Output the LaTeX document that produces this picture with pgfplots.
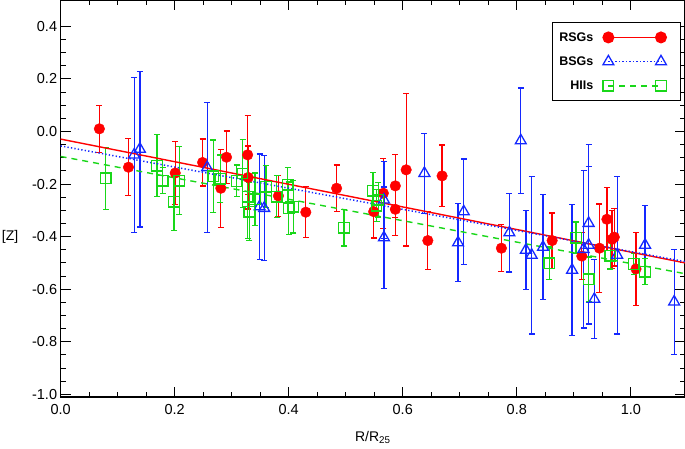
\documentclass[border=0pt]{standalone}
\usepackage{fontspec}
\setmainfont{Liberation Sans}
\usepackage{pgfplots}
\pgfplotsset{compat=1.18}
\usepackage{pgfplotstable}
\definecolor{cred}{RGB}{255,0,0}
\definecolor{cblue}{RGB}{20,40,255}
\definecolor{cgreen}{RGB}{25,215,25}

\pgfplotstableread{
x y e
0.068 0.010 0.090
0.119 -0.136 0.108
0.201 -0.158 0.120
0.249 -0.118 0.089
0.291 -0.098 0.100
0.281 -0.216 0.148
0.328 -0.089 0.150
0.329 -0.175 0.120
0.382 -0.245 0.078
0.430 -0.307 0.097
0.484 -0.216 0.088
0.549 -0.305 0.100
0.566 -0.235 0.133
0.587 -0.207 0.120
0.587 -0.296 0.100
0.606 -0.146 0.290
0.644 -0.415 0.110
0.669 -0.169 0.117
0.773 -0.444 0.089
0.862 -0.415 0.105
0.914 -0.474 0.090
0.945 -0.444 0.168
0.958 -0.334 0.120
0.967 -0.410 0.110
0.971 -0.402 0.110
1.009 -0.523 0.140
}\rsg

\pgfplotstableread{
x y e
0.129 -0.089 0.295
0.139 -0.067 0.296
0.257 -0.137 0.248
0.349 -0.286 0.200
0.357 -0.292 0.200
0.567 -0.260 0.147
0.567 -0.404 0.193
0.638 -0.159 0.152
0.697 -0.423 0.148
0.707 -0.305 0.200
0.787 -0.385 0.150
0.807 -0.035 0.200
0.816 -0.451 0.150
0.826 -0.470 0.300
0.846 -0.440 0.200
0.897 -0.527 0.250
0.917 -0.448 0.300
0.926 -0.349 0.300
0.926 -0.432 0.300
0.936 -0.638 0.150
0.976 -0.470 0.300
1.025 -0.432 0.150
1.076 -0.648 0.200
}\bsg

\pgfplotstableread{
x y e
0.079 -0.178 0.118
0.169 -0.130 0.118
0.179 -0.187 0.050
0.199 -0.267 0.110
0.208 -0.187 0.130
0.268 -0.171 0.138
0.280 -0.180 0.090
0.309 -0.188 0.060
0.319 -0.160 0.130
0.328 -0.248 0.160
0.331 -0.305 0.110
0.341 -0.258 0.100
0.360 -0.210 0.080
0.379 -0.248 0.080
0.398 -0.203 0.065
0.400 -0.292 0.100
0.408 -0.286 0.100
0.497 -0.366 0.070
0.548 -0.225 0.070
0.557 -0.260 0.065
0.554 -0.282 0.060
0.857 -0.501 0.062
0.904 -0.404 0.060
0.926 -0.562 0.085
0.964 -0.473 0.050
1.005 -0.504 0.040
1.025 -0.533 0.050
}\hii

\begin{document}
\begin{tikzpicture}
\begin{axis}[
  scale only axis, width=624.4pt, height=397pt,
  xmin=0, xmax=1.095, ymin=-1.01, ymax=0.5,
  axis line style={line width=1.2pt},
  every tick/.style={black, line width=1pt},
  tick align=inside,
  major tick length=10pt, minor tick length=5pt,
  xtick={0,0.2,0.4,0.6,0.8,1.0}, minor x tick num=3,
  ytick={-1,-0.8,-0.6,-0.4,-0.2,0,0.2,0.4}, minor y tick num=3,
  tick label style={font=\fontsize{14.5}{16}\selectfont,
    /pgf/number format/fixed, /pgf/number format/fixed zerofill,
    /pgf/number format/precision=1, /pgf/number format/assume math mode=true},
  xticklabel style={yshift=-4pt},
  xlabel={R/R\textsubscript{25}},
  xlabel style={at={(axis description cs:0.5,-0.103)}, anchor=center, font=\fontsize{14}{16}\selectfont},
  ylabel={[Z]},
  ylabel style={at={(axis description cs:-0.081,0.403)}, anchor=center, rotate=-90, font=\fontsize{14}{16}\selectfont},
  legend plot pos=right,
  legend cell align=right,
  legend image code/.code={\draw[#1] plot coordinates {(0pt,0pt) (52.6pt,0pt)}; \path (-5.3pt,0pt) (66pt,0pt);},
  legend style={at={(axis description cs:0.7865,0.9453)}, anchor=north west, draw=black, line width=1.2pt, fill=white,
    inner xsep=5pt, inner ysep=8pt, row sep=10pt, font=\bfseries\fontsize{12.5}{13}\selectfont,
    /tikz/every odd column/.append style={column sep=7pt}},
]
% data
\addplot[only marks, mark=*, color=cred, mark size=5.3pt, forget plot,
  error bars/.cd, y dir=both, y explicit,
  error bar style={line width=1.3pt, cred},
  error mark options={rotate=90, mark size=3pt, line width=1.3pt, cred}]
  table[x=x, y=y, y error=e] {\rsg};
\addplot[only marks, mark=triangle, color=cblue, mark size=6.3pt, mark options={line width=1.3pt}, forget plot,
  error bars/.cd, y dir=both, y explicit,
  error bar style={line width=1.3pt, cblue},
  error mark options={rotate=90, mark size=3pt, line width=1.3pt, cblue}]
  table[x=x, y=y, y error=e] {\bsg};
\addplot[only marks, mark=square, color=cgreen, mark size=5.3pt, mark options={line width=1.3pt}, forget plot,
  error bars/.cd, y dir=both, y explicit,
  error bar style={line width=1.3pt, cgreen},
  error mark options={rotate=90, mark size=3pt, line width=1.3pt, cgreen}]
  table[x=x, y=y, y error=e] {\hii};
% fits
\addplot[cred, line width=1.4pt, forget plot] coordinates {(0,-0.029) (1.1,-0.502)};
\addplot[cblue, line width=1.5pt, dash pattern=on 1.3pt off 2.2pt, forget plot] coordinates {(0,-0.055) (1.1,-0.497)};
\addplot[cgreen, line width=1.4pt, dash pattern=on 6pt off 5pt, forget plot] coordinates {(0,-0.095) (1.1,-0.543)};
% legend
\addlegendimage{cred, line width=1.4pt, mark=*, mark size=5.3pt}
\addlegendentry{RSGs}
\addlegendimage{cblue, line width=1.5pt, dash pattern=on 1.3pt off 2.2pt, mark=triangle, mark size=6.3pt, mark options={solid, line width=1.3pt}}
\addlegendentry{BSGs}
\addlegendimage{cgreen, line width=1.4pt, dash pattern=on 6pt off 5pt, mark=square, mark size=5.3pt, mark options={solid, line width=1.3pt}}
\addlegendentry{HIIs}
\end{axis}
\pgfresetboundingbox
\path[use as bounding box] ([xshift=-60.6pt,yshift=-51pt]current axis.south west) rectangle (current axis.north east);
\end{tikzpicture}
\end{document}
